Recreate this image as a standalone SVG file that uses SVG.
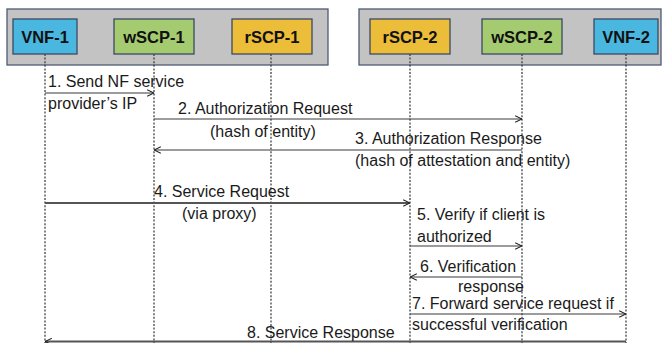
<svg xmlns="http://www.w3.org/2000/svg" width="663" height="343" viewBox="0 0 663 343">
<style>
.grp{fill:#c3c3c3;stroke:#4d5a73;stroke-width:1.3}
.node{stroke:#3b4a63;stroke-width:1.3}
.vnf{fill:#4ab7e0}
.wscp{fill:#a4cb70}
.rscp{fill:#ebbd38}
.nl{font-family:"Liberation Sans",Arial,sans-serif;font-weight:bold;font-size:16.5px;fill:#111;text-anchor:middle}
.life{stroke:#333;stroke-width:1.2;stroke-dasharray:2 1.6;fill:none}
.msg{stroke:#3a3a3a;stroke-width:1.2;fill:none}
.thick{stroke:#555;stroke-width:1.8}
.t{font-family:"Liberation Sans",Arial,sans-serif;font-size:16px;fill:#1a1a1a}
</style>
<defs>
<marker id="ah" viewBox="0 0 10 10" refX="9.5" refY="5" markerWidth="8" markerHeight="8" markerUnits="userSpaceOnUse" orient="auto">
<path d="M1,1 L9.5,5 L1,9" fill="none" stroke="#222" stroke-width="1.3"/>
</marker>
</defs>
<rect class="grp" x="7" y="9" width="321" height="56"/>
<rect class="grp" x="359" y="9" width="302" height="56"/>
<g id="lifelines">
<line class="life" x1="45" y1="54" x2="45" y2="343"/>
<line class="life" x1="154" y1="54" x2="154" y2="343"/>
<line class="life" x1="271" y1="54" x2="271" y2="343"/>
<line class="life" x1="410" y1="54" x2="410" y2="343"/>
<line class="life" x1="522" y1="54" x2="522" y2="343"/>
<line class="life" x1="626" y1="54" x2="626" y2="343"/>
</g>
<g id="vnf1"><rect class="node vnf" x="13" y="19" width="64" height="35"/><text class="nl" x="45" y="42.5">VNF-1</text></g>
<g id="wscp1"><rect class="node wscp" x="114" y="19" width="80" height="35"/><text class="nl" x="154" y="42.5">wSCP-1</text></g>
<g id="rscp1"><rect class="node rscp" x="232" y="19" width="80" height="35"/><text class="nl" x="272" y="42.5">rSCP-1</text></g>
<g id="rscp2"><rect class="node rscp" x="370" y="19" width="80" height="35"/><text class="nl" x="410" y="42.5">rSCP-2</text></g>
<g id="wscp2"><rect class="node wscp" x="482" y="19" width="80" height="35"/><text class="nl" x="522" y="42.5">wSCP-2</text></g>
<g id="vnf2"><rect class="node vnf" x="594" y="19" width="64" height="35"/><text class="nl" x="626" y="42.5">VNF-2</text></g>
<g id="connectors">
<line class="msg" x1="45" y1="93" x2="154" y2="93" marker-end="url(#ah)"/>
<line class="msg" x1="154" y1="119" x2="522" y2="119" marker-end="url(#ah)"/>
<line class="msg" x1="522" y1="150" x2="154" y2="150" marker-end="url(#ah)"/>
<line class="msg thick" x1="45" y1="203" x2="410" y2="203" marker-end="url(#ah)"/>
<line class="msg" x1="410" y1="246" x2="522" y2="246" marker-end="url(#ah)"/>
<line class="msg" x1="522" y1="277" x2="410" y2="277" marker-end="url(#ah)"/>
<line class="msg" x1="410" y1="314" x2="626" y2="314" marker-end="url(#ah)"/>
<line class="msg thick" x1="626" y1="341.5" x2="45" y2="341.5" marker-end="url(#ah)"/>
</g>
<g id="labels">
<text class="t" x="48" y="87">1. Send NF service</text>
<text class="t" x="48" y="109">provider’s IP</text>
<text class="t" x="178" y="114">2. Authorization Request</text>
<text class="t" x="210" y="137">(hash of entity)</text>
<text class="t" x="355" y="144">3. Authorization Response</text>
<text class="t" x="355" y="166">(hash of attestation and entity)</text>
<text class="t" x="154" y="197">4. Service Request</text>
<text class="t" x="182" y="219">(via proxy)</text>
<text class="t" x="417" y="220">5. Verify if client is</text>
<text class="t" x="417" y="242">authorized</text>
<text class="t" x="420" y="272">6. Verification</text>
<text class="t" x="458" y="292">response</text>
<text class="t" x="412" y="309">7. Forward service request if</text>
<text class="t" x="412" y="330">successful verification</text>
<text class="t" x="247" y="338">8. Service Response</text>
</g>
</svg>
